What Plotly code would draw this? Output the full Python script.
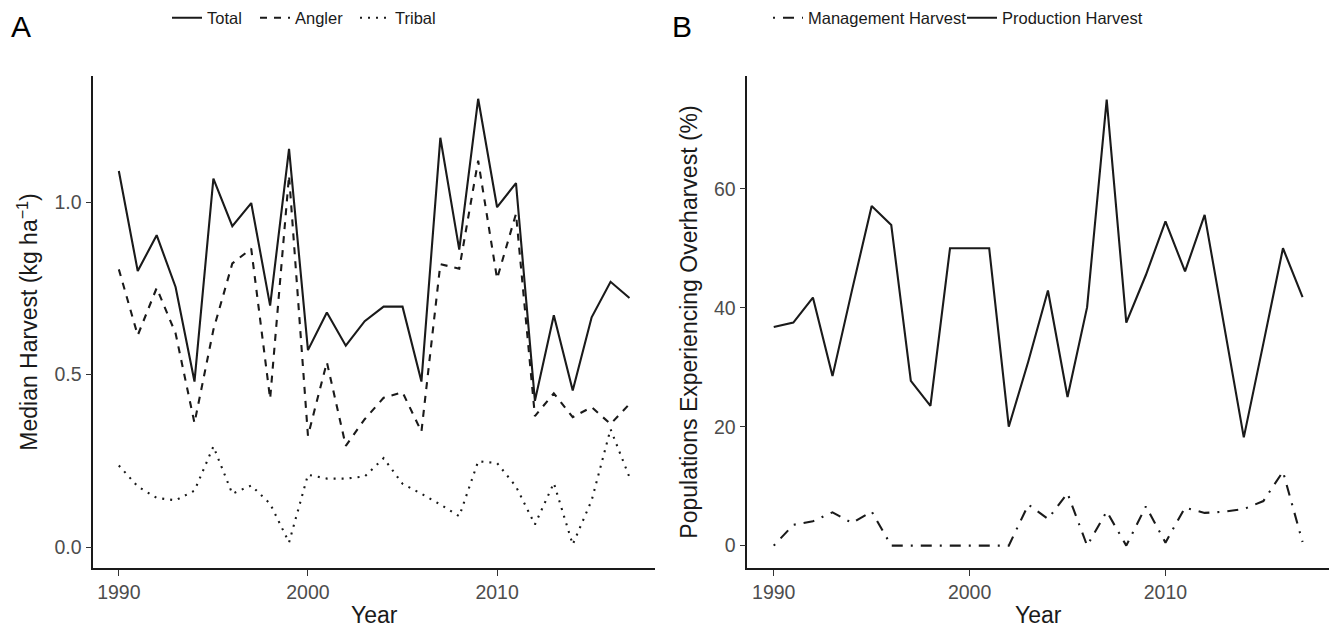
import plotly.graph_objects as go

years = list(range(1990, 2018))

total = [1.09, 0.80, 0.904, 0.754, 0.48, 1.068, 0.93, 0.997, 0.70, 1.154,
         0.571, 0.68, 0.584, 0.655, 0.697, 0.697, 0.48, 1.186, 0.862, 1.299,
         0.985, 1.055, 0.424, 0.672, 0.454, 0.666, 0.769, 0.722]
angler = [0.805, 0.614, 0.751, 0.62, 0.36, 0.63, 0.822, 0.865, 0.43, 1.077,
          0.323, 0.536, 0.294, 0.371, 0.433, 0.449, 0.335, 0.82, 0.807, 1.12,
          0.778, 0.966, 0.38, 0.446, 0.377, 0.406, 0.357, 0.415]
tribal = [0.237, 0.176, 0.143, 0.136, 0.164, 0.292, 0.155, 0.179, 0.126, 0.014,
          0.21, 0.199, 0.199, 0.205, 0.258, 0.184, 0.155, 0.124, 0.09, 0.249,
          0.244, 0.176, 0.066, 0.186, 0.008, 0.136, 0.342, 0.203]

production = [36.75, 37.5, 41.7, 28.5, 43.0, 57.1, 53.9, 27.7, 23.5, 50.0,
              50.0, 50.0, 20.0, 31.0, 42.9, 25.0, 40.1, 75.0, 37.5, 45.5,
              54.5, 46.1, 55.6, 37.0, 18.2, 34.0, 50.0, 41.8]
management = [0.0, 3.5, 4.1, 5.6, 3.8, 5.75, 0.0, 0.0, 0.0, 0.0,
              0.0, 0.0, 0.0, 6.9, 4.5, 8.8, 0.0, 5.75, 0.0, 6.6,
              0.5, 6.4, 5.5, 5.7, 6.15, 7.5, 12.45, 0.6]

yticks_a = [0.0, 0.5, 1.0]
yticks_b = [0, 20, 40, 60]
xticks = [1990, 2000, 2010]

FONT = "Liberation Sans, Arial, sans-serif"
LC = "#1a1a1a"
LW = 2.1
W, H = 1335, 629

fig = go.Figure()

fig.add_trace(go.Scatter(x=years, y=total, mode="lines", name="Total",
                         line=dict(color=LC, width=LW, dash="solid"),
                         xaxis="x", yaxis="y", legend="legend", showlegend=True))
fig.add_trace(go.Scatter(x=years, y=angler, mode="lines", name="Angler",
                         line=dict(color=LC, width=LW, dash="7px,7px"),
                         xaxis="x", yaxis="y", legend="legend2", showlegend=True))
fig.add_trace(go.Scatter(x=years, y=tribal, mode="lines", name="Tribal",
                         line=dict(color=LC, width=LW, dash="2px,6px"),
                         xaxis="x", yaxis="y", legend="legend3", showlegend=True))
fig.add_trace(go.Scatter(x=years, y=management, mode="lines", name="Management Harvest",
                         line=dict(color=LC, width=LW, dash="2px,8px,11px,8px"),
                         xaxis="x2", yaxis="y2", legend="legend4", showlegend=True))
fig.add_trace(go.Scatter(x=years, y=production, mode="lines", name="Production Harvest",
                         line=dict(color=LC, width=LW, dash="solid"),
                         xaxis="x2", yaxis="y2", legend="legend5", showlegend=True))

ydom = [1 - 568 / H, 1 - 76 / H]

axis_common = dict(
    showgrid=False, zeroline=False, showline=True, linecolor="#1a1a1a", linewidth=1.6,
    ticks="outside", ticklen=6, tickwidth=1.3, tickcolor="#333333",
    tickfont=dict(family=FONT, size=19.5, color="#4d4d4d"),
)
title_font = dict(family=FONT, size=23, color="#1a1a1a")


def leg(xpx):
    return dict(orientation="h", x=xpx / W, xanchor="left", y=1 - 18 / H, yanchor="middle",
                font=dict(family=FONT, size=16.5, color="#1a1a1a"),
                bgcolor="rgba(0,0,0,0)", borderwidth=0)


fig.update_layout(
    width=W, height=H,
    showlegend=True,
    margin=dict(l=0, r=0, t=0, b=0),
    paper_bgcolor="white", plot_bgcolor="white",
    font=dict(family=FONT, color="#1a1a1a"),
    xaxis=dict(domain=[93.3 / W, 655 / W], range=[1988.65, 2018.35], tickvals=xticks,
               title=dict(text="Year", font=title_font, standoff=5),
               anchor="y", **axis_common),
    yaxis=dict(domain=ydom, range=[-0.06, 1.365], tickvals=yticks_a,
               tickformat=".1f",
               title=dict(text="Median Harvest (kg ha<sup>−1</sup>)", font=title_font, standoff=10),
               anchor="x", **axis_common),
    xaxis2=dict(domain=[747.3 / W, 1329 / W], range=[1988.65, 2018.35], tickvals=xticks,
                title=dict(text="Year", font=title_font, standoff=5),
                anchor="y2", **axis_common),
    yaxis2=dict(domain=ydom, range=[-3.76, 78.96], tickvals=yticks_b,
                title=dict(text="Populations Experiencing Overharvest (%)", font=title_font, standoff=10),
                anchor="x2", **axis_common),
    legend=leg(167),
    legend2=leg(255),
    legend3=leg(355),
    legend4=leg(768),
    legend5=leg(962),
    annotations=[
        dict(text="A", x=21 / W, y=1 - 27 / H, xref="paper", yref="paper",
             xanchor="center", yanchor="middle", showarrow=False,
             font=dict(family=FONT, size=30, color="#000000")),
        dict(text="B", x=682 / W, y=1 - 27 / H, xref="paper", yref="paper",
             xanchor="center", yanchor="middle", showarrow=False,
             font=dict(family=FONT, size=30, color="#000000")),
    ],
)

fig.write_html("out.html", config={"displayModeBar": False},
               post_script="document.body.style.margin='0px';")
